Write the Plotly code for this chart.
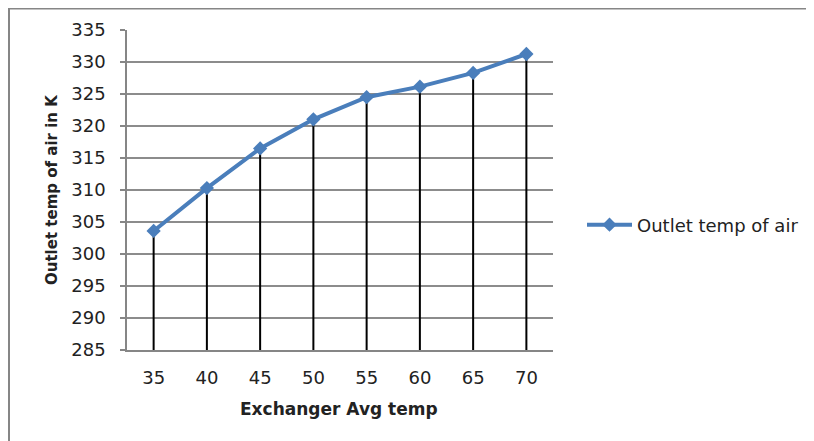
import plotly.graph_objects as go

exchanger_avg_temp = ["35", "40", "45", "50", "55", "60", "65", "70"]
outlet_temp_air = [303.6, 310.3, 316.5, 321.05, 324.5, 326.15, 328.3, 331.25]
y_ticks = [285, 290, 295, 300, 305, 310, 315, 320, 325, 330, 335]

FONT = "DejaVu Sans"
FS = 18
FT = 16
# page body has an 8px margin, so the figure is drawn 8px smaller and all pixel
# positions are given relative to the figure's own origin
W, H = 806, 433
L, R, T, B = 119, 261, 22, 91
pw, ph = W - L - R, H - T - B

# drop lines from each point down to the axis minimum
drop_x, drop_y = [], []
for xv, yv in zip(exchanger_avg_temp, outlet_temp_air):
    drop_x += [xv, xv, None]
    drop_y += [y_ticks[0], yv, None]

fig = go.Figure()
fig.add_trace(go.Scatter(
    x=drop_x, y=drop_y, mode="lines",
    line=dict(color="black", width=2),
    showlegend=False, hoverinfo="skip"))
fig.add_trace(go.Scatter(
    x=exchanger_avg_temp, y=outlet_temp_air, mode="lines+markers",
    name="Outlet temp of air",
    line=dict(color="#4A7EBB", width=4),
    marker=dict(symbol="diamond", size=11, color="#4A7EBB")))

def px_x(p):
    return (p - L) / pw

def px_y(p):
    return 1 - (p - T) / ph

fig.update_layout(
    width=W, height=H,
    margin=dict(l=L, r=R, t=T, b=B, autoexpand=False),
    paper_bgcolor="white", plot_bgcolor="white",
    font=dict(family=FONT, size=FS, color="#222"),
    xaxis=dict(
        type="category", range=[-0.5, 7.5],
        showgrid=False, showline=True, linecolor="#868686", linewidth=1.5,
        ticks="", ticklabelstandoff=11,
        tickfont=dict(size=FS, family=FONT),
        zeroline=False),
    yaxis=dict(
        range=[285, 335], tickvals=y_ticks,
        showgrid=True, gridcolor="#8C8C8C", gridwidth=1.5,
        showline=True, linecolor="#868686", linewidth=1.5,
        ticks="outside", ticklen=5, tickcolor="#868686", tickwidth=1.5,
        ticklabelstandoff=11,
        tickfont=dict(size=FS, family=FONT),
        zeroline=False),
    legend=dict(x=px_x(574), y=px_y(217), xanchor="left", yanchor="middle",
                font=dict(size=FS, family=FONT), bgcolor="rgba(0,0,0,0)",
                itemwidth=45),
    annotations=[
        dict(text="<b>Exchanger Avg temp</b>", xref="paper", yref="paper",
             x=px_x(331), y=px_y(401), xanchor="center", yanchor="middle",
             showarrow=False, font=dict(size=FT + 1, family=FONT)),
        dict(text="<b>Outlet temp of air in K</b>", xref="paper", yref="paper",
             x=px_x(44), y=px_y(182), xanchor="center", yanchor="middle",
             textangle=-90, showarrow=False, font=dict(size=FT - 1, family=FONT)),
    ],
    shapes=[dict(type="rect", xref="paper", yref="paper",
                 x0=px_x(1), x1=px_x(830), y0=px_y(460), y1=px_y(0.5),
                 line=dict(color="#868686", width=2), fillcolor="rgba(0,0,0,0)",
                 layer="below")],
)

fig.write_html("out.html")
